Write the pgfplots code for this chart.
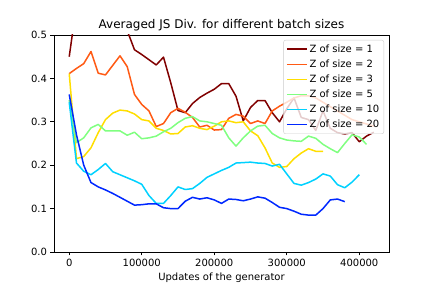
\documentclass[border=0pt]{standalone}
\usepackage{pgfplots}
\pgfplotsset{compat=1.18}
\usepackage{fontspec}
\setmainfont{DejaVu Sans}
\definecolor{cA}{RGB}{128,0,0}
\definecolor{cB}{RGB}{255,90,20}
\definecolor{cC}{RGB}{255,222,0}
\definecolor{cD}{RGB}{128,255,128}
\definecolor{cE}{RGB}{0,209,255}
\definecolor{cF}{RGB}{0,40,255}
\begin{document}
\begin{tikzpicture}
\useasboundingbox (-54pt,-36pt) rectangle (378pt,252pt);
\begin{axis}[
  at={(0,0)}, anchor=south west,
  scale only axis, width=335pt, height=217pt,
  xmin=-21000, xmax=441000, ymin=0, ymax=0.5,
  xtick={0,100000,200000,300000,400000},
  ytick={0,0.1,0.2,0.3,0.4,0.5},
  xticklabel style={/pgf/number format/fixed,/pgf/number format/1000 sep={}},
  yticklabel style={/pgf/number format/fixed,/pgf/number format/fixed zerofill,/pgf/number format/precision=1},
  scaled x ticks=false, scaled y ticks=false,
  /pgf/number format/assume math mode=true,
  tick align=outside, tick pos=left,
  major tick length=3.5pt,
  tick style={black, line width=0.8pt},
  axis line style={line width=0.8pt},
  ticklabel style={font=\fontsize{10}{12}\selectfont},
  title={Averaged JS Div. for different batch sizes},
  title style={font=\fontsize{12}{14}\selectfont, yshift=-6pt},
  xlabel={Updates of the generator},
  xlabel style={font=\fontsize{10}{12}\selectfont, yshift=1pt},
  every axis plot/.append style={line width=1.5pt, line join=round},
  legend cell align=left,
  legend image code/.code={\draw[#1, line width=1.5pt, opacity=1] (0pt,0pt) -- (20pt,0pt);},
  legend style={at={(1,1)}, xshift=-5pt, yshift=-5pt, anchor=north east,
    font=\fontsize{10}{12}\selectfont, draw={rgb,255:red,204;green,204;blue,204},
    fill=white, fill opacity=0.8, text opacity=1, rounded corners=2pt,
    row sep=2pt, inner sep=2.5pt},
]
\addplot[cA] coordinates {
(0,0.45)(10000,0.57)(20000,0.6)(30000,0.6)(40000,0.6)(50000,0.6)(60000,0.6)(70000,0.58)(80000,0.51)
(90000,0.466)(100000,0.455)(110000,0.443)(120000,0.431)(130000,0.449)(140000,0.39)(150000,0.326)
(160000,0.321)(170000,0.342)(180000,0.356)(190000,0.366)(200000,0.375)(210000,0.388)(220000,0.388)
(230000,0.359)(240000,0.302)(250000,0.333)(260000,0.349)(270000,0.349)(280000,0.321)(290000,0.300)
(300000,0.33)(310000,0.355)(320000,0.31)(330000,0.305)(340000,0.28)(350000,0.325)(360000,0.285)
(370000,0.275)(380000,0.272)(390000,0.275)(400000,0.254)(410000,0.267)(420000,0.276)};
\addlegendentry{Z of size = 1}
\addplot[cB] coordinates {
(0,0.411)(10000,0.423)(20000,0.434)(30000,0.462)(40000,0.412)(50000,0.408)(60000,0.43)(70000,0.452)
(80000,0.427)(90000,0.363)(100000,0.340)(110000,0.325)(120000,0.289)(130000,0.296)(140000,0.321)
(150000,0.331)(160000,0.322)(170000,0.31)(180000,0.288)(190000,0.292)(200000,0.281)(210000,0.282)
(220000,0.308)(230000,0.317)(240000,0.313)(250000,0.296)(260000,0.302)(270000,0.296)(280000,0.325)
(290000,0.336)(300000,0.345)(310000,0.355)(320000,0.36)(330000,0.36)(340000,0.355)(350000,0.345)
(360000,0.335)(370000,0.325)(380000,0.315)(390000,0.305)(400000,0.30)(410000,0.295)(420000,0.29)};
\addlegendentry{Z of size = 2}
\addplot[cC] coordinates {
(0,0.411)(10000,0.215)(20000,0.22)(30000,0.24)(40000,0.275)(50000,0.305)(60000,0.32)(70000,0.327)
(80000,0.325)(90000,0.318)(100000,0.305)(110000,0.302)(120000,0.285)(130000,0.28)(140000,0.272)
(150000,0.273)(160000,0.288)(170000,0.291)(180000,0.285)(190000,0.282)(200000,0.290)(210000,0.300)
(220000,0.302)(230000,0.298)(240000,0.300)(250000,0.279)(260000,0.268)(270000,0.24)(280000,0.205)
(290000,0.195)(300000,0.197)(310000,0.215)(320000,0.228)(330000,0.238)(340000,0.232)(350000,0.232)};
\addlegendentry{Z of size = 3}
\addplot[cD] coordinates {
(0,0.35)(10000,0.252)(20000,0.263)(30000,0.286)(40000,0.294)(50000,0.279)(60000,0.279)(70000,0.279)
(80000,0.269)(90000,0.276)(100000,0.261)(110000,0.263)(120000,0.267)(130000,0.277)(140000,0.285)
(150000,0.298)(160000,0.308)(170000,0.312)(180000,0.302)(190000,0.300)(200000,0.296)(210000,0.292)
(220000,0.263)(230000,0.244)(240000,0.263)(250000,0.279)(260000,0.290)(270000,0.292)(280000,0.273)
(290000,0.263)(300000,0.258)(310000,0.256)(320000,0.255)(330000,0.267)(340000,0.262)(350000,0.248)
(360000,0.238)(370000,0.229)(380000,0.25)(390000,0.27)(400000,0.265)(410000,0.248)};
\addlegendentry{Z of size = 5}
\addplot[cE] coordinates {
(0,0.345)(10000,0.205)(20000,0.186)(30000,0.178)(40000,0.19)(50000,0.204)(60000,0.185)(70000,0.178)
(80000,0.171)(90000,0.164)(100000,0.156)(110000,0.13)(120000,0.112)(130000,0.112)(140000,0.13)
(150000,0.15)(160000,0.144)(170000,0.146)(180000,0.158)(190000,0.172)(200000,0.18)(210000,0.188)
(220000,0.195)(230000,0.205)(240000,0.206)(250000,0.207)(260000,0.205)(270000,0.204)(280000,0.198)
(290000,0.202)(300000,0.18)(310000,0.158)(320000,0.154)(330000,0.16)(340000,0.168)(350000,0.18)
(360000,0.175)(370000,0.155)(380000,0.148)(390000,0.161)(400000,0.178)};
\addlegendentry{Z of size = 10}
\addplot[cF] coordinates {
(0,0.363)(10000,0.27)(20000,0.2)(30000,0.16)(40000,0.15)(50000,0.143)(60000,0.135)(70000,0.126)
(80000,0.117)(90000,0.108)(100000,0.109)(110000,0.111)(120000,0.111)(130000,0.102)(140000,0.1)
(150000,0.1)(160000,0.117)(170000,0.126)(180000,0.122)(190000,0.125)(200000,0.12)(210000,0.112)
(220000,0.122)(230000,0.121)(240000,0.118)(250000,0.122)(260000,0.127)(270000,0.124)(280000,0.114)
(290000,0.103)(300000,0.1)(310000,0.094)(320000,0.087)(330000,0.085)(340000,0.085)(350000,0.1)
(360000,0.12)(370000,0.122)(380000,0.116)};
\addlegendentry{Z of size = 20}
\end{axis}
\end{tikzpicture}
\end{document}
